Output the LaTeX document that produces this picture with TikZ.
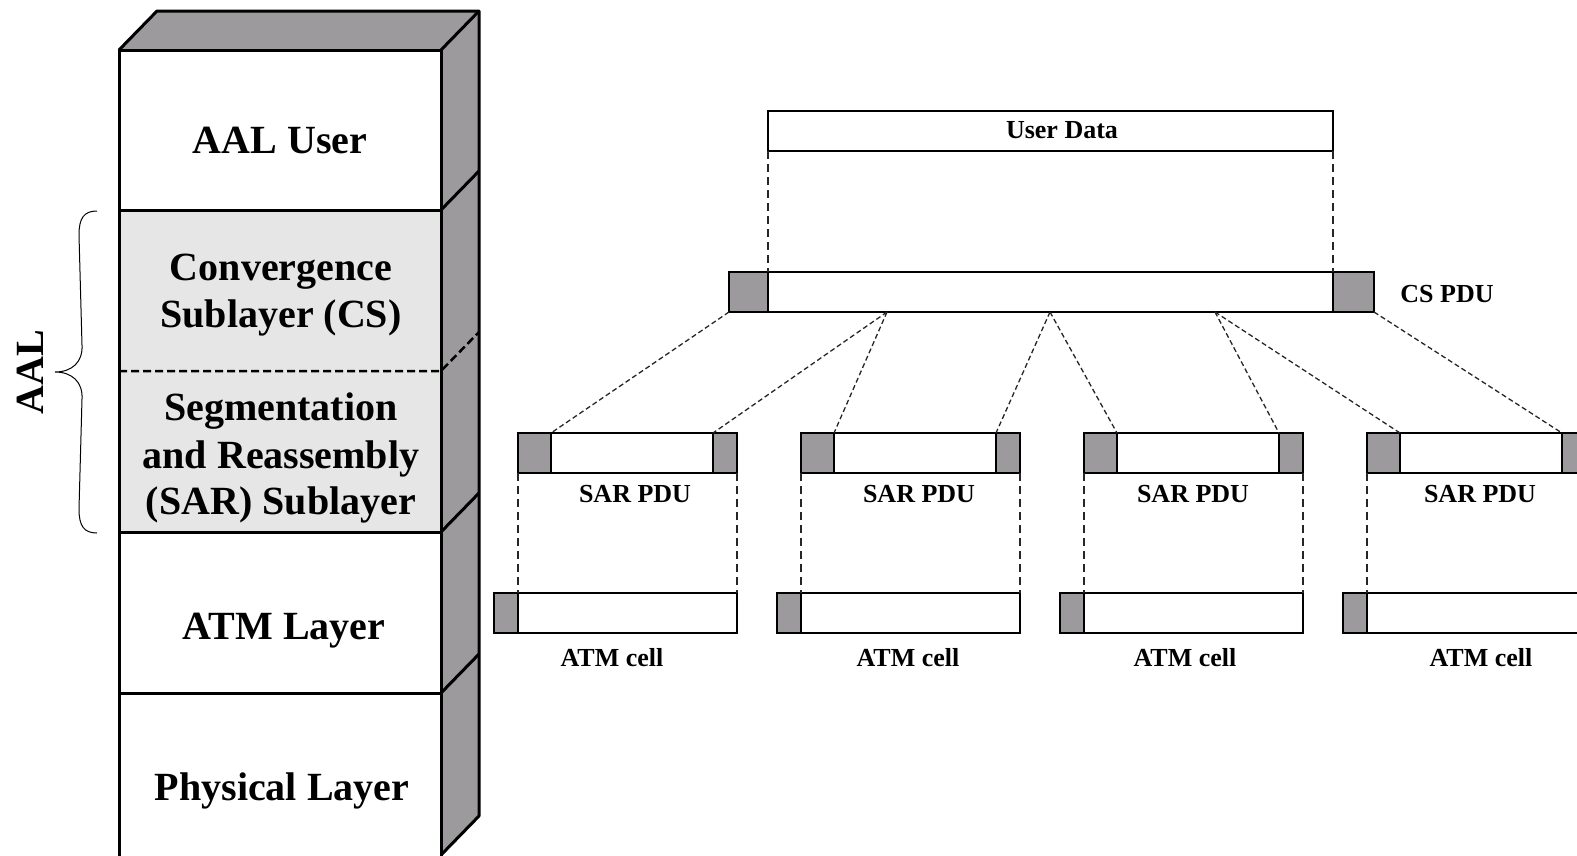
\documentclass[tikz,border=0pt]{standalone}
\usepackage{fontspec}
\setmainfont{Liberation Serif}
\definecolor{sidegray}{HTML}{9C9A9D}
\definecolor{lightgray}{HTML}{E6E6E6}
\begin{document}
\begin{tikzpicture}[x=1pt,y=-1pt,
  layer/.style={draw,line width=3pt,inner sep=0pt,outer sep=0pt,anchor=north west,minimum width=322pt,minimum height=161pt},
  bigtext/.style={font=\fontsize{40}{47}\selectfont\bfseries,anchor=base,align=center,inner sep=0pt},
  smalltext/.style={font=\fontsize{26}{30}\selectfont\bfseries,anchor=base,inner sep=0pt},
  pdu/.style={draw,line width=1.5pt,fill=white,inner sep=0pt,outer sep=0pt,anchor=north west,minimum height=40pt},
  hdr/.style={pdu,fill=sidegray},
  conn/.style={line width=1.3pt,dash pattern=on 5pt off 3pt,color=black!85},
  vconn/.style={line width=1.5pt,dash pattern=on 8pt off 5pt,color=black!85},
  stackline/.style={line width=3pt,line join=round}
]
\useasboundingbox (0,0) rectangle (1577,855);
\clip (0,0) rectangle (1577,855);

% ---------- protocol stack ----------
\fill[sidegray] (441,50) -- (479,11) -- (479,816) -- (441,855) -- cycle;
\fill[sidegray] (119,50) -- (157,11) -- (479,11) -- (441,50) -- cycle;
\node[layer,fill=white,minimum height=160pt] (user) at (119,50) {};
\node[layer,fill=lightgray,minimum height=322pt] (aal) at (119,210) {};
\node[layer,fill=white,minimum height=161pt] (atm) at (119,532) {};
\node[layer,fill=white,minimum height=170pt] (phy) at (119,693) {};
\draw[stackline] (119,50) -- (157,11) -- (479,11) -- (479,816) -- (441,855);
\draw[stackline] (441,50) -- (479,11);
\draw[stackline] (441,210) -- (479,171);
\draw[stackline] (441,532) -- (479,493);
\draw[stackline] (441,693) -- (479,654);
\draw[line width=2.5pt,dash pattern=on 8pt off 4pt] (119,371) -- (441,371) -- (479,332);

\node[bigtext] (tuser) at (280,153) {AAL User};
\node[bigtext] (tcs1) at (281,280) {Convergence};
\node[bigtext] (tcs2) at (281,327) {Sublayer (CS)};
\node[bigtext] (tsar1) at (281,420) {Segmentation};
\node[bigtext] (tsar2) at (281,468) {and Reassembly};
\node[bigtext] (tsar3) at (281,514) {(SAR) Sublayer};
\node[bigtext] (tatm) at (284,639) {ATM Layer};
\node[bigtext] (tphy) at (282,800) {Physical Layer};

% brace and AAL label
\draw[line width=1pt] (97,211) .. controls (84,211) and (79,218) .. (79,235)
  -- (82,345) .. controls (83,362) and (72,372) .. (55,372)
  .. controls (72,372) and (83,382) .. (82,399)
  -- (79,509) .. controls (79,526) and (84,533) .. (97,533);
\node[font=\fontsize{40}{47}\selectfont\bfseries,rotate=90,inner sep=0pt] (taal) at (30,372) {AAL};

% ---------- PDU diagram ----------
\node[pdu,minimum width=565pt] (ud) at (768,111) {};
\node[smalltext] (tud) at (1062,138) {User Data};

\node[pdu,minimum width=645pt] (cs) at (729,272) {};
\node[hdr,minimum width=39pt] (csh) at (729,272) {};
\node[hdr,minimum width=41pt] (cst) at (1333,272) {};
\node[smalltext] (tcs) at (1447,302) {CS PDU};

\draw[vconn] (ud.south west) -- (csh.north east);
\draw[vconn] (ud.south east) -- (cst.north west);

\foreach \i/\x/\sl/\cl in {1/518/635/612,2/801/919/908,3/1084/1193/1185,4/1367/1480/1481}{
  \node[pdu,minimum width=219pt] (sar\i) at (\x,433) {};
  \node[hdr,minimum width=33pt] (sarh\i) at (\x,433) {};
  \node[hdr,minimum width=24pt] (sart\i) at (\x+195,433) {};
  \node[smalltext] (tsar\i) at (\sl,502) {SAR PDU};
  \node[pdu,minimum width=243pt] (cell\i) at (\x-24,593) {};
  \node[hdr,minimum width=24pt] (cellh\i) at (\x-24,593) {};
  \node[smalltext] (tcell\i) at (\cl,666) {ATM cell};
  \draw[vconn] (sar\i.south west) -- (cellh\i.north east);
}
\foreach \i in {1,2,3}{
  \draw[vconn] (sar\i.south east) -- (cell\i.north east);
}

\coordinate (c1) at (887,312);
\coordinate (c2) at (1050,312);
\coordinate (c3) at (1215,312);
\draw[conn] (cs.south west) -- (sarh1.north east);
\draw[conn] (c1) -- (sart1.north west);
\draw[conn] (c1) -- (sarh2.north east);
\draw[conn] (c2) -- (sart2.north west);
\draw[conn] (c2) -- (sarh3.north east);
\draw[conn] (c3) -- (sart3.north west);
\draw[conn] (c3) -- (sarh4.north east);
\draw[conn] (cs.south east) -- (sart4.north west);
\end{tikzpicture}
\end{document}
